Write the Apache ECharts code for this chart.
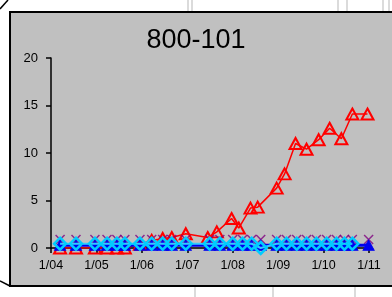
<!DOCTYPE html>
<html><head><meta charset="utf-8">
<script src="https://cdn.jsdelivr.net/npm/echarts@6/dist/echarts.min.js"></script>
<style>html,body{margin:0;padding:0;background:#fff;}#c{width:392px;height:297px;}</style>
</head><body><div id="c"></div>
<script>
const titleText = '800-101';
const xTickLabels = ['1/04','1/05','1/06','1/07','1/08','1/09','1/10','1/11'];
const yTicks = [0, 5, 10, 15, 20];
// x positions in months since 1/04
const redMonths = [2.4,6.6,11.6,14.8,17.4,19.5,23.5,26.6,29.5,31.9,35.6,41.4,43.8,47.7,49.6,52.7,54.6,59.6,61.7,64.6,67.5,70.7,73.6,76.7,79.6,83.6];
const redValues = [0,0,0,0,0,0,0.4,0.8,1.0,1.1,1.5,1.1,1.7,3.1,2.1,4.2,4.3,6.3,7.8,11.0,10.4,11.4,12.6,11.5,14.1,14.1];
const markerMonths = [2.4,6.6,11.6,14.8,17.4,19.5,23.5,26.6,29.5,31.9,35.6,41.9,44.6,48,50.6,53,55.4,59.6,62.2,64.9,67.5,70.1,72.8,75.4,77.5,79.6,83.9];
const cyanValues = [0.45,0.45,0.45,0.45,0.45,0.45,0.45,0.45,0.45,0.45,0.45,0.45,0.45,0.45,0.45,0.45,0,0.45,0.45,0.45,0.45,0.45,0.45,0.45,0.45,0.45,null];
const navyValues = [0.3,0.3,0.3,0.3,0.3,0.3,0.3,0.3,0.3,0.3,0.3,0.3,0.3,0.3,0.3,0.3,0.3,0.3,0.3,0.3,0.3,0.3,0.3,0.3,0.3,0.3,0.3];
const purpleValues = [0.9,0.9,0.9,0.9,0.9,0.9,0.9,0.9,0.9,0.9,0.9,0.9,0.9,0.9,0.9,0.9,0.9,0.9,0.9,0.9,0.9,0.9,0.9,0.9,0.9,0.9,0.9];

const pair = (xs, ys) => xs.map((x, i) => [x, ys[i]]);
const font = "'Liberation Sans', Arial, sans-serif";
const chart = echarts.init(document.getElementById('c'), null, {renderer: 'canvas'});
const faint = (x1, y1, x2, y2) => ({type: 'line', z: -20, shape: {x1, y1, x2, y2}, style: {stroke: '#cfcfcf', lineWidth: 1.5}});
chart.setOption({
  animation: false,
  backgroundColor: '#ffffff',
  title: {text: titleText, left: 'center', top: 22, textStyle: {fontFamily: font, fontSize: 27, fontWeight: 'normal', color: '#000'}},
  graphic: [
    faint(188, 0, 188, 12), faint(192, 0, 192, 12), faint(338, 0, 338, 12), faint(347, 0, 347, 12),
    faint(383, 0, 383, 12), faint(389, 0, 389, 12),
    faint(195, 287, 195, 297), faint(273, 287, 273, 297), faint(355, 287, 355, 297),
    {type: 'rect', z: -10, shape: {x: 10, y: 12, width: 392, height: 274}, style: {fill: '#c0c0c0', stroke: '#000', lineWidth: 2}},
    {type: 'line', z: -10, shape: {x1: 0, y1: 9, x2: 8, y2: 0}, style: {stroke: '#000', lineWidth: 1.5}},
    {type: 'line', z: -10, shape: {x1: 0, y1: 281, x2: 10, y2: 286}, style: {stroke: '#000', lineWidth: 1.5}}
  ],
  grid: {left: 51, right: 23, top: 58, bottom: 49},
  xAxis: {
    type: 'value', min: 0, max: 84, interval: 12,
    axisLine: {show: true, onZero: false, lineStyle: {color: '#000', width: 1.5}},
    axisTick: {show: true, inside: false, length: 5, lineStyle: {color: '#000', width: 1.5}},
    axisLabel: {margin: 11, fontFamily: font, fontSize: 12.5, color: '#000', formatter: v => xTickLabels[Math.round(v / 12)]},
    splitLine: {show: false}
  },
  yAxis: {
    type: 'value', min: yTicks[0], max: yTicks[yTicks.length - 1], interval: 5,
    axisLine: {show: true, lineStyle: {color: '#000', width: 1.5}},
    axisTick: {show: true, inside: false, length: 5, lineStyle: {color: '#000', width: 1.5}},
    axisLabel: {margin: 13, fontFamily: font, fontSize: 13, color: '#000'},
    splitLine: {show: false}
  },
  series: [
    {type: 'line', z: 2, data: pair(redMonths, redValues), symbol: 'triangle', symbolSize: [12, 11],
     lineStyle: {color: '#ff0000', width: 1.5},
     itemStyle: {color: 'rgba(0,0,0,0)', borderColor: '#ff0000', borderWidth: 2}},
    {type: 'scatter', z: 3, data: pair(markerMonths, purpleValues), symbol: 'path://M0,0L10,10M10,0L0,10', symbolSize: 9,
     itemStyle: {color: 'rgba(0,0,0,0)', borderColor: '#800080', borderWidth: 1.5}},
    {type: 'line', z: 4, data: pair(markerMonths, navyValues), symbol: 'triangle', symbolSize: [11, 10],
     lineStyle: {color: '#0000ee', width: 3},
     itemStyle: {color: '#0000ee', borderColor: '#0000ee', borderWidth: 1}},
    {type: 'line', z: 5, data: pair(markerMonths, cyanValues), symbol: 'diamond', symbolSize: [12, 12], connectNulls: false,
     lineStyle: {color: '#33ccff', width: 2},
     itemStyle: {color: 'rgba(0,0,0,0)', borderColor: '#00ccff', borderWidth: 2.5}}
  ]
});
</script>
</body></html>
